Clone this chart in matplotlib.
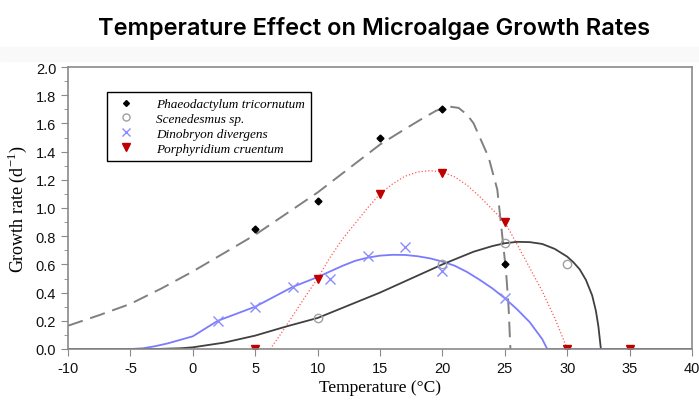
import matplotlib
matplotlib.use('Agg')
import matplotlib.pyplot as plt
from matplotlib.patches import Rectangle

plt.rcParams['axes.unicode_minus'] = False

# measured growth rates (d^-1) of the four species
t_phaeo = [5, 10, 15, 20, 25]
mu_phaeo = [0.85, 1.05, 1.50, 1.70, 0.60]
t_scene = [10, 20, 25, 30]
mu_scene = [0.22, 0.60, 0.75, 0.60]
t_dino = [2, 5, 8, 11, 14, 17, 20, 25]
mu_dino = [0.20, 0.30, 0.44, 0.50, 0.66, 0.72, 0.55, 0.36]
t_porph = [5, 10, 15, 20, 25, 30, 35]
mu_porph = [0.0, 0.50, 1.10, 1.25, 0.90, 0.0, 0.0]

# fitted curves
fit_phaeo_t = [-10, -7.5, -5, -2.5, 0, 2.5, 5, 7.5, 10, 12.5, 15, 17, 18.5, 19.5, 20.5,
               21.3, 22, 22.5, 23, 23.7, 24.4, 24.8, 25.1, 25.3, 25.45]
fit_phaeo_mu = [0.165, 0.24, 0.32, 0.43, 0.55, 0.68, 0.81, 0.96, 1.11, 1.28, 1.45, 1.56, 1.64, 1.69, 1.72,
                1.71, 1.66, 1.60, 1.50, 1.36, 1.13, 0.80, 0.55, 0.30, 0.0]
fit_scene_t = [-10, -3, -1, 0, 2.5, 5, 7.5, 10, 12.5, 15, 17.5, 20, 22.5, 24, 25, 26, 27,
               28, 29, 30, 30.5, 31, 31.5, 32, 32.3, 32.5, 32.7, 40]
fit_scene_mu = [0, 0, 0.005, 0.012, 0.045, 0.095, 0.16, 0.22, 0.31, 0.40, 0.50, 0.60, 0.69, 0.73, 0.75, 0.76, 0.758,
                0.745, 0.71, 0.655, 0.615, 0.565, 0.49, 0.38, 0.27, 0.16, 0.0, 0]
fit_dino_t = [-10, -5, -4, -3, -2, -1, 0, 1, 2, 3.5, 5, 6.5, 8, 9, 10, 11, 12, 13, 14, 15, 16, 17,
              18, 19, 20, 21, 22, 23, 24, 25, 26, 27, 28, 28.4, 40]
fit_dino_mu = [0, 0, 0.005, 0.02, 0.04, 0.065, 0.09, 0.145, 0.20, 0.25, 0.30, 0.37, 0.44, 0.475, 0.51, 0.55, 0.59, 0.625, 0.648, 0.662, 0.668, 0.667,
               0.658, 0.643, 0.62, 0.59, 0.545, 0.49, 0.43, 0.36, 0.28, 0.19, 0.07, 0.0, 0]
fit_porph_t = [-10, 6.2, 7, 8, 9, 10, 11, 12, 13, 14, 15, 16, 17, 18, 19, 20, 21, 22, 23, 24,
               25, 26, 27, 28, 29, 29.6, 30, 40]
fit_porph_mu = [0, 0, 0.10, 0.235, 0.37, 0.50, 0.65, 0.78, 0.89, 1.00, 1.10, 1.17, 1.225, 1.255, 1.265, 1.255, 1.22, 1.16, 1.08, 0.99,
                0.90, 0.74, 0.575, 0.41, 0.22, 0.09, 0.0, 0]

species = ['Phaeodactylum tricornutum', 'Scenedesmus sp.', 'Dinobryon divergens', 'Porphyridium cruentum']

fig = plt.figure(figsize=(6.99, 4.02), dpi=100)
# faint grey band above the plot (from the source screenshot)
fig.patches.append(Rectangle((0, 1 - 62/402), 1, 14/402, transform=fig.transFigure,
                             color='#f9f9f9', zorder=0))
fig.text(0.535, 1 - 29/402, 'Temperature Effect on Microalgae Growth Rates',
         ha='center', va='center', fontsize=17, fontweight='semibold', family='Inter')

ax = fig.add_axes([68/699, 1 - 350/402, 624/699, 282/402])

ax.plot(fit_phaeo_t, fit_phaeo_mu, color='#808080', lw=1.4, dashes=(8, 4))
ax.plot(fit_porph_t, fit_porph_mu, color='#ff5a5a', lw=0.9, ls=':')
ax.plot(fit_dino_t, fit_dino_mu, color='#7b7bff', lw=1.3)
ax.plot(fit_scene_t, fit_scene_mu, color='#404040', lw=1.3)

h1, = ax.plot(t_phaeo, mu_phaeo, 'D', color='black', ms=3.5, ls='none', label=species[0])
h2, = ax.plot(t_scene, mu_scene, 'o', mfc='none', mec='#a0a0a0', ms=6, ls='none', label=species[1])
h3, = ax.plot(t_dino, mu_dino, 'x', color='#8c8cff', ms=7, mew=1, ls='none', label=species[2])
h4, = ax.plot(t_porph, mu_porph, 'v', color='#c00000', ms=6, ls='none', label=species[3])

ax.set_xlim(-10, 40)
ax.set_ylim(0, 2.0)
ax.set_xticks(range(-10, 41, 5))
ax.set_yticks([i/10 for i in range(0, 21, 2)])
ax.set_yticks([i/10 for i in range(1, 20, 2)], minor=True)
ax.set_yticklabels(['%.1f' % (i/10) for i in range(0, 21, 2)])
for s in ax.spines.values():
    s.set_color('#8a8a8a')
    s.set_linewidth(1.2)
ax.tick_params(which='both', direction='out', color='#8a8a8a', labelcolor='#111111', labelsize=10.5)
ax.tick_params(which='major', length=5)
ax.tick_params(which='minor', length=3)
for lab in ax.get_xticklabels() + ax.get_yticklabels():
    lab.set_family('Liberation Sans')

ax.set_xlabel('Temperature (°C)', family='Liberation Serif', fontsize=12.5, labelpad=3)
ax.set_ylabel('Growth rate (d$^{\\mathregular{-1}}$)', family='Liberation Serif', fontsize=13, labelpad=5)

leg = fig.legend(handles=[h1, h2, h3, h4], loc='upper left', bbox_to_anchor=(107/699, 1 - 93/402),
                 bbox_transform=fig.transFigure, borderaxespad=0, fancybox=False, framealpha=1,
                 edgecolor='black', handlelength=2.0, handletextpad=1.3, labelspacing=0.2,
                 borderpad=0.45, markerscale=0.85,
                 prop={'family': 'Liberation Serif', 'style': 'italic', 'size': 9.5})
leg.get_frame().set_linewidth(1.0)
leg.set_zorder(5)

fig.savefig('out.png', dpi=100)
